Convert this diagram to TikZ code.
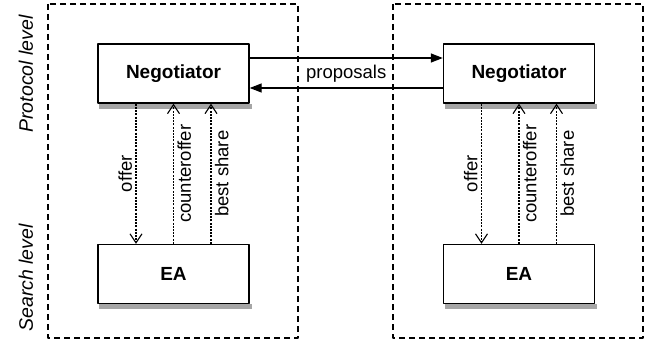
\documentclass[tikz,border=0pt]{standalone}
\usepackage{fontspec}
\setmainfont{Liberation Sans}
\usetikzlibrary{arrows.meta}

\begin{document}
\begin{tikzpicture}[x=1pt,y=-1pt,line join=round,
  >={Straight Barb[length=9pt,width=12pt,line width=1.1pt]},
  font=\fontsize{18.5}{22}\selectfont,
  agent/.style={draw,line width=1.4pt,fill=white,minimum width=151pt,minimum height=59pt,
    font=\fontsize{19}{22}\selectfont\bfseries},
  shadowband/.style={fill=gray!70},
  levelbox/.style={line width=1.3pt,dash pattern=on 6pt off 4pt},
  msg/.style={->,line width=1.1pt,dash pattern=on 2pt off 1.2pt},
  prop/.style={-{Triangle[length=12pt,width=9pt]},line width=1.3pt},
  levellabel/.style={rotate=90,font=\fontsize{19.5}{22}\selectfont\itshape}]
\useasboundingbox (0,0) rectangle (661,345);
% the two levels
\draw[levelbox] (48,4) rectangle (298,338);
\draw[levelbox] (393,4) rectangle (643,338);
\node[levellabel] (protocol) at (26,74) {Protocol level};
\node[levellabel] (search) at (26,278) {Search level};
% agents
\node[agent] (neg1) at (173.5,73.5) {Negotiator};
\node[agent] (ea1) at (173.5,274) {EA};
\node[agent] (neg2) at (519,73.5) {Negotiator};
\node[agent] (ea2) at (519,274) {EA};
% shadows under the agents
\fill[shadowband] ([xshift=2pt]neg1.south west) rectangle ([shift={(2pt,-5pt)}]neg1.south east);
\fill[shadowband] ([xshift=2pt]ea1.south west) rectangle ([shift={(2pt,-5pt)}]ea1.south east);
\fill[shadowband] ([xshift=2pt]neg2.south west) rectangle ([shift={(2pt,-5pt)}]neg2.south east);
\fill[shadowband] ([xshift=2pt]ea2.south west) rectangle ([shift={(2pt,-5pt)}]ea2.south east);
% proposals between the negotiators
\draw[prop] ([yshift=15.5pt]neg1.east) -- ([yshift=15.5pt]neg2.west);
\draw[prop] ([yshift=-14.5pt]neg2.west) -- ([yshift=-14.5pt]neg1.east);
\path (neg1) -- (neg2) node[midway] (proposals) {proposals};
% left agent
\draw[msg] ([xshift=-37.5pt]neg1.south) -- ([xshift=-37.5pt]ea1.north)
  node[midway,rotate=90,anchor=south] (offer1) {offer};
\draw[msg] (ea1.north) -- (neg1.south)
  node[midway,rotate=90,anchor=north] (counter1) {counteroffer};
\draw[msg] ([xshift=37.5pt]ea1.north) -- ([xshift=37.5pt]neg1.south)
  node[midway,rotate=90,anchor=north] (best1) {best share};
% right agent
\draw[msg] ([xshift=-37.5pt]neg2.south) -- ([xshift=-37.5pt]ea2.north)
  node[midway,rotate=90,anchor=south] (offer2) {offer};
\draw[msg] (ea2.north) -- (neg2.south)
  node[midway,rotate=90,anchor=north] (counter2) {counteroffer};
\draw[msg] ([xshift=37.5pt]ea2.north) -- ([xshift=37.5pt]neg2.south)
  node[midway,rotate=90,anchor=north] (best2) {best share};
\end{tikzpicture}
\end{document}
